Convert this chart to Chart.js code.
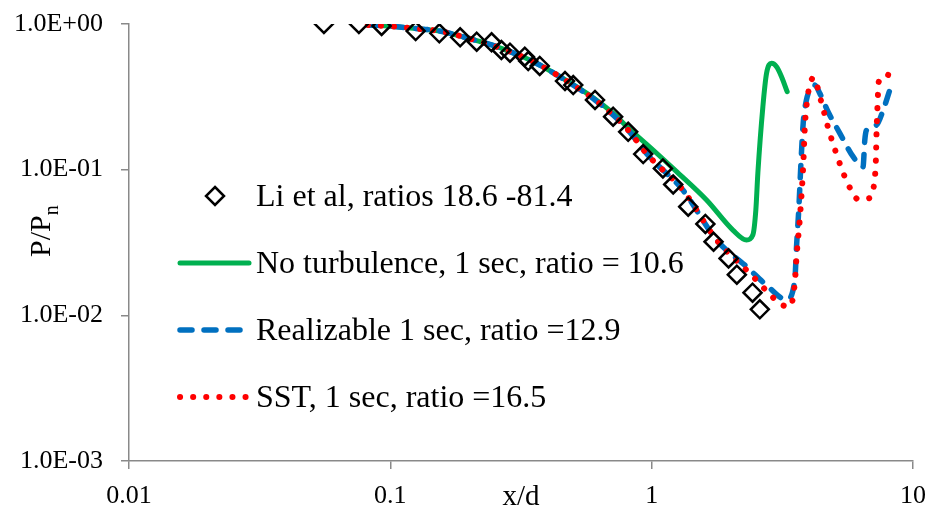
<!DOCTYPE html>
<html>
<head>
<meta charset="utf-8">
<script src="https://cdn.jsdelivr.net/npm/chart.js@4.4.0/dist/chart.umd.min.js"></script>
<style>
  html, body { margin: 0; padding: 0; background: #fff; }
  #wrap { position: relative; width: 930px; height: 507px; }
</style>
</head>
<body>
<div id="wrap"><canvas id="chart" width="930" height="507"></canvas></div>
<script>
// --- Data ---
const liX = [0.0557, 0.0758, 0.0926, 0.125, 0.154, 0.185, 0.214, 0.244, 0.266, 0.287, 0.327, 0.337, 0.373, 0.466, 0.501, 0.607, 0.712, 0.813, 0.928, 1.104, 1.209, 1.380, 1.605, 1.725, 1.969, 2.118, 2.432, 2.593];
const liY = [1.0, 1.0, 0.969, 0.895, 0.863, 0.810, 0.756, 0.749, 0.663, 0.635, 0.596, 0.557, 0.515, 0.406, 0.381, 0.301, 0.231, 0.182, 0.128, 0.102, 0.0791, 0.0557, 0.0424, 0.0320, 0.0246, 0.0190, 0.0143, 0.0110];

const noTurbX = [0.082, 0.1, 0.125, 0.154, 0.185, 0.214, 0.244, 0.287, 0.337, 0.373, 0.466, 0.607, 0.712, 0.813, 1.013, 1.246, 1.622, 2.045, 2.307, 2.438, 2.504, 2.549, 2.664, 2.752, 2.875, 3.005, 3.14, 3.30];
const noTurbY = [0.985, 0.965, 0.93, 0.895, 0.827, 0.768, 0.718, 0.646, 0.573, 0.523, 0.415, 0.306, 0.244, 0.194, 0.1365, 0.097, 0.0619, 0.0385, 0.0329, 0.0356, 0.0529, 0.0949, 0.2706, 0.4587, 0.537, 0.509, 0.435, 0.343];

const realX = [0.082, 0.1, 0.125, 0.154, 0.185, 0.214, 0.244, 0.287, 0.337, 0.373, 0.466, 0.607, 0.712, 0.813, 0.93, 1.0, 1.316, 1.772, 2.307, 2.791, 3.28, 3.53, 3.584, 3.66, 3.72, 3.80, 3.91, 4.03, 4.21, 4.40, 4.73, 5.25, 5.90, 6.44, 6.54, 6.64, 7.25, 7.69, 8.15];
const realY = [0.985, 0.965, 0.93, 0.895, 0.827, 0.768, 0.718, 0.646, 0.573, 0.523, 0.413, 0.301, 0.237, 0.187, 0.137, 0.118, 0.0725, 0.0329, 0.0216, 0.01572, 0.0128, 0.0175, 0.0297, 0.0557, 0.1048, 0.208, 0.301, 0.352, 0.381, 0.334, 0.25, 0.1777, 0.1227, 0.1048, 0.160, 0.187, 0.2026, 0.2568, 0.352];

const sstX = [0.082, 0.1, 0.125, 0.154, 0.185, 0.214, 0.244, 0.287, 0.337, 0.373, 0.466, 0.607, 0.712, 0.813, 0.93, 1.0, 1.316, 1.772, 2.445, 2.875, 3.12, 3.38, 3.53, 3.584, 3.69, 3.80, 3.856, 3.935, 4.005, 4.15, 4.467, 4.73, 5.07, 5.48, 5.77, 6.17, 6.79, 7.08, 7.21, 7.25, 7.31, 7.40, 7.85, 8.20];
const sstY = [0.985, 0.965, 0.93, 0.895, 0.827, 0.768, 0.718, 0.646, 0.573, 0.523, 0.413, 0.301, 0.237, 0.187, 0.137, 0.118, 0.0725, 0.0329, 0.01841, 0.01357, 0.0119, 0.01147, 0.01667, 0.0253, 0.0464, 0.105, 0.197, 0.301, 0.362, 0.428, 0.288, 0.195, 0.1316, 0.0895, 0.0737, 0.0626, 0.0636, 0.0772, 0.1165, 0.1758, 0.2663, 0.402, 0.4126, 0.501];

const xTicks = [0.01, 0.1, 1, 10];
const yTicks = [0.001, 0.01, 0.1, 1];

const labels = [
    'Li et al, ratios 18.6 -81.4',
    'No turbulence, 1 sec, ratio = 10.6',
    'Realizable 1 sec, ratio =12.9',
    'SST, 1 sec, ratio =16.5'
];
const xTitle = 'x/d';

// --- Helpers ---
const pts = (xs, ys) => xs.map((x, i) => ({ x, y: ys[i] }));
const FONT = "'Liberation Serif', 'Times New Roman', serif";
const AXIS = '#898989';

function expLabel(v) {
    const e = Math.round(Math.log10(v));
    return '1.0E' + (e < 0 ? '-' : '+') + String(Math.abs(e)).padStart(2, '0');
}

// --- Legend + axis titles drawn on the canvas ---
const extras = {
    id: 'extras',
    afterDraw(chart) {
        const ctx = chart.ctx;
        const ds = chart.data.datasets;
        ctx.save();

        // legend
        const rows = [196, 263, 330, 397];
        ctx.font = '32px ' + FONT;
        ctx.fillStyle = '#000';
        ctx.textAlign = 'left';
        ctx.textBaseline = 'alphabetic';
        rows.forEach((y, i) => {
            const d = ds[i];
            if (i === 0) {
                ctx.beginPath();
                ctx.moveTo(215, y - 9); ctx.lineTo(224, y); ctx.lineTo(215, y + 9); ctx.lineTo(206, y);
                ctx.closePath();
                ctx.lineWidth = d.pointBorderWidth;
                ctx.strokeStyle = d.pointBorderColor;
                ctx.stroke();
            } else {
                ctx.beginPath();
                ctx.setLineDash(d.borderDash || []);
                ctx.lineCap = d.borderCapStyle || 'butt';
                ctx.lineWidth = d.borderWidth;
                ctx.strokeStyle = d.borderColor;
                ctx.moveTo(180, y); ctx.lineTo(249, y);
                ctx.stroke();
                ctx.setLineDash([]);
            }
            ctx.fillText(d.label, 256, y + 10);
        });

        // x title
        ctx.font = '29px ' + FONT;
        ctx.textAlign = 'center';
        ctx.fillText(xTitle, 521, 505);

        // y title: P/P with subscript n
        ctx.translate(50, 257);
        ctx.rotate(-Math.PI / 2);
        ctx.textAlign = 'left';
        ctx.font = '30px ' + FONT;
        ctx.fillText('P/P', 0, 0);
        const w = ctx.measureText('P/P').width;
        ctx.font = '20px ' + FONT;
        ctx.fillText('n', w, 8);
        ctx.restore();
    }
};

// --- Chart ---
new Chart(document.getElementById('chart').getContext('2d'), {
    type: 'line',
    data: {
        datasets: [
            {
                label: labels[0], data: pts(liX, liY), showLine: false, order: 0,
                pointStyle: 'rectRot', pointRadius: 9, pointBorderWidth: 2.5,
                pointBorderColor: '#000', pointBackgroundColor: 'rgba(0,0,0,0)'
            },
            {
                label: labels[1], data: pts(noTurbX, noTurbY), order: 3,
                borderColor: '#00B050', borderWidth: 5, borderCapStyle: 'round',
                pointRadius: 0, cubicInterpolationMode: 'monotone'
            },
            {
                label: labels[2], data: pts(realX, realY), order: 2,
                borderColor: '#0070C0', borderWidth: 5.5, borderDash: [12, 12], borderCapStyle: 'round',
                pointRadius: 0, cubicInterpolationMode: 'monotone'
            },
            {
                label: labels[3], data: pts(sstX, sstY), order: 1,
                borderColor: '#FF0000', borderWidth: 6, borderDash: [0.1, 13], borderCapStyle: 'round',
                pointRadius: 0, cubicInterpolationMode: 'monotone'
            }
        ]
    },
    options: {
        responsive: false,
        animation: false,
        devicePixelRatio: 1,
        layout: { padding: { top: 24, right: 17, left: 0, bottom: 0 } },
        plugins: { legend: { display: false }, tooltip: { enabled: false } },
        scales: {
            x: {
                type: 'logarithmic', min: 0.01, max: 10,
                afterBuildTicks: s => { s.ticks = xTicks.map(v => ({ value: v })); },
                afterFit: s => { s.height = 46; s.paddingLeft = 0; s.paddingRight = 0; },
                ticks: {
                    callback: v => String(v), color: '#000', padding: 12,
                    maxRotation: 0, autoSkip: false, font: { family: FONT, size: 26 }
                },
                grid: { drawOnChartArea: false, tickLength: 8, color: AXIS, lineWidth: 1.5 },
                border: { color: AXIS, width: 1.5 }
            },
            y: {
                type: 'logarithmic', min: 0.001, max: 1,
                afterBuildTicks: s => { s.ticks = yTicks.map(v => ({ value: v })); },
                afterFit: s => { s.width = 129; s.paddingTop = 0; s.paddingBottom = 0; },
                ticks: {
                    callback: v => expLabel(v), color: '#000', padding: 18,
                    autoSkip: false, font: { family: FONT, size: 26 }
                },
                grid: { drawOnChartArea: false, tickLength: 8, color: AXIS, lineWidth: 1.5 },
                border: { color: AXIS, width: 1.5 }
            }
        }
    },
    plugins: [extras]
});
</script>
</body>
</html>
